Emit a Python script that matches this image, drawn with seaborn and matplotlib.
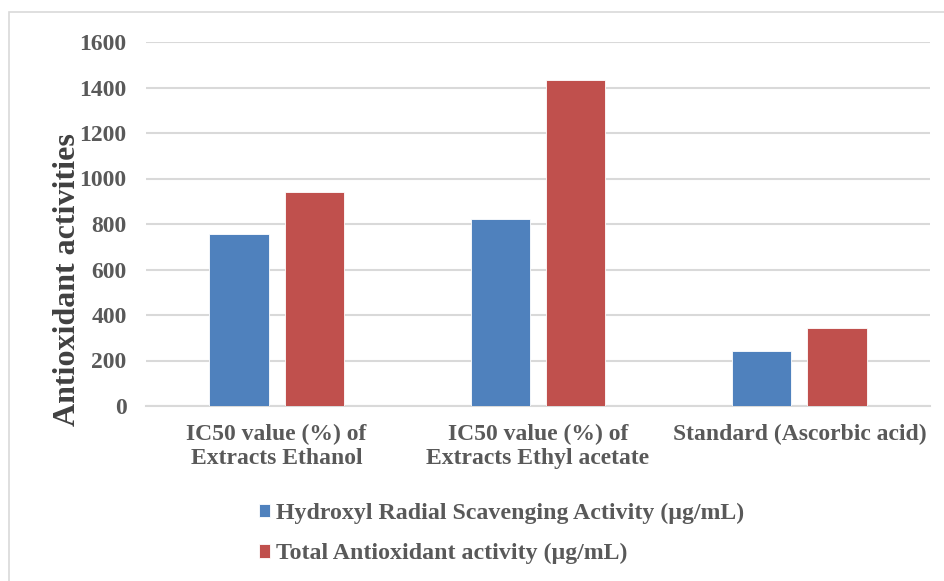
import matplotlib
matplotlib.use("Agg")
import matplotlib.pyplot as plt
import seaborn as sns
import pandas as pd
from matplotlib.patches import Rectangle

categories = ["IC50 value (%) of\nExtracts Ethanol",
              "IC50 value (%) of\nExtracts Ethyl acetate",
              "Standard (Ascorbic acid)"]
series_names = ["Hydroxyl Radial Scavenging Activity (µg/mL)",
                "Total Antioxidant activity (µg/mL)"]
hydroxyl = [756, 821, 243]
total_antioxidant = [940, 1435, 341]
y_ticks = [0, 200, 400, 600, 800, 1000, 1200, 1400, 1600]
y_label = "Antioxidant activities"

df = pd.DataFrame({
    "category": categories * 2,
    "series": [series_names[0]] * 3 + [series_names[1]] * 3,
    "value": hydroxyl + total_antioxidant,
})

sns.set_theme(style="white")
plt.rcParams["font.family"] = ["Liberation Serif", "DejaVu Serif"]
plt.rcParams["font.weight"] = "bold"

fig = plt.figure(figsize=(9.44, 5.81), dpi=100)
ax = fig.add_axes([146 / 944, 1 - 406 / 581, (930 - 146) / 944, (406 - 42) / 581])

palette = {series_names[0]: "#4F81BD", series_names[1]: "#C0504D"}
sns.barplot(data=df, x="category", y="value", hue="series", order=categories,
            hue_order=series_names, palette=palette, width=0.575, gap=0.21,
            saturation=1, edgecolor="white", linewidth=0.6, ax=ax, legend=True,
            zorder=3)

ax.set_ylim(0, 1600)
ax.set_xlim(-0.5, 2.5)
ax.set_yticks(y_ticks)
ax.set_yticklabels([str(t) for t in y_ticks], fontsize=17, fontweight="bold",
                   color="#595959")
ax.set_xticks(range(len(categories)))
ax.set_xticklabels(categories, fontsize=17, fontweight="bold", color="#595959",
                   linespacing=1.18)
ax.tick_params(axis="y", length=0, pad=14)
ax.tick_params(axis="x", length=0, pad=13)
ax.yaxis.grid(True, color="#D9D9D9", linewidth=1.5, zorder=0)
ax.set_axisbelow(True)
for side in ["top", "right", "left"]:
    ax.spines[side].set_visible(False)
ax.spines["bottom"].set_color("#D9D9D9")
ax.spines["bottom"].set_linewidth(1.5)
ax.set_xlabel("")
ax.set_ylabel(y_label, fontsize=23, fontweight="bold", color="#404040",
              va="center")
ax.yaxis.set_label_coords((68 - 146) / 784, (406 - 280) / 364)

handles, labels = ax.get_legend_handles_labels()
ax.legend(handles, labels, loc="upper left", bbox_to_anchor=(259 / 944, 1 - 503 / 581),
          bbox_transform=fig.transFigure, ncol=1, frameon=False,
          prop={"family": "Liberation Serif", "weight": "bold", "size": 17.2},
          labelcolor="#595959", handlelength=0.47, handleheight=0.47,
          handletextpad=0.25, labelspacing=0.8, borderaxespad=0, borderpad=0)

# light outer chart border
fig.patches.append(Rectangle((9 / 944, -0.1), 1.2, 1 - 12 / 581 + 0.1,
                             transform=fig.transFigure, fill=False,
                             edgecolor="#D9D9D9", linewidth=1.2))

fig.savefig("out.png", dpi=100, facecolor="white")
